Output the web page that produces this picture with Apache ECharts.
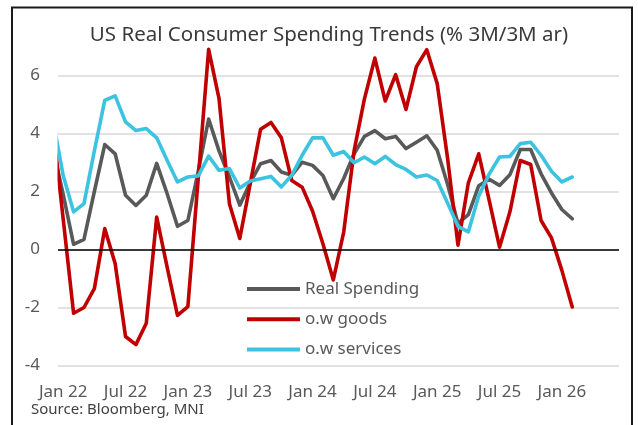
<!DOCTYPE html>
<html>
<head>
<meta charset="utf-8">
<script src="https://cdn.jsdelivr.net/npm/echarts@6/dist/echarts.min.js"></script>
<style>
html,body{margin:0;padding:0;background:#fff;}
#chart{width:638px;height:425px;}
</style>
</head>
<body>
<div id="chart"></div>
<script>
// Monthly categories (first point Dec 21 sits just left of the plot and is clipped)
const months = ['Dec 21',
  'Jan 22','Feb 22','Mar 22','Apr 22','May 22','Jun 22','Jul 22','Aug 22','Sep 22','Oct 22','Nov 22','Dec 22',
  'Jan 23','Feb 23','Mar 23','Apr 23','May 23','Jun 23','Jul 23','Aug 23','Sep 23','Oct 23','Nov 23','Dec 23',
  'Jan 24','Feb 24','Mar 24','Apr 24','May 24','Jun 24','Jul 24','Aug 24','Sep 24','Oct 24','Nov 24','Dec 24',
  'Jan 25','Feb 25','Mar 25','Apr 25','May 25','Jun 25','Jul 25','Aug 25','Sep 25','Oct 25','Nov 25','Dec 25',
  'Jan 26','Feb 26'];
const tickLabels = ['Jan 22','Jul 22','Jan 23','Jul 23','Jan 24','Jul 24','Jan 25','Jul 25','Jan 26'];
const yTicks = [-4, -2, 0, 2, 4, 6];

const realSpending = [3.5,1.9,0.18,0.35,2.0,3.62,3.3,1.87,1.52,1.87,2.97,1.93,0.8,
  1.0,2.7,4.5,3.4,2.5,1.53,2.3,2.96,3.07,2.67,2.56,3.01,
  2.9,2.55,1.75,2.45,3.3,3.9,4.1,3.82,3.9,3.48,3.7,3.92,
  3.42,2.25,0.9,1.2,2.2,2.42,2.21,2.58,3.45,3.45,2.61,1.95,
  1.38,1.06];
const goods = [4.3,1.05,-2.2,-2.0,-1.35,0.72,-0.48,-3.0,-3.28,-2.54,1.12,-0.6,-2.27,
  -1.97,2.45,6.9,5.2,1.58,0.38,2.26,4.15,4.38,3.85,2.38,2.15,
  1.33,0.2,-1.05,0.6,3.4,5.2,6.6,5.12,6.03,4.83,6.3,6.89,
  5.72,3.15,0.15,2.3,3.3,1.7,0.08,1.3,3.07,2.93,1.0,0.4,
  -0.72,-1.98];
const services = [4.5,2.55,1.3,1.58,3.4,5.14,5.3,4.4,4.1,4.17,3.85,3.08,2.33,
  2.5,2.54,3.22,2.73,2.79,2.12,2.36,2.44,2.52,2.16,2.56,3.25,
  3.85,3.85,3.25,3.38,2.99,3.19,2.96,3.21,2.93,2.76,2.5,2.57,
  2.38,1.6,0.8,0.61,1.85,2.6,3.19,3.21,3.65,3.7,3.25,2.7,
  2.33,2.5];

const seriesNames = ['Real Spending', 'o.w goods', 'o.w services'];
const seriesColors = ['#595959', '#C00000', '#3CC3DF'];

// x position: index relative to Jan 22 (Dec 21 = -1)
function toPairs(arr){ return arr.map((v,i)=>[i-1, v]); }
const tickIdx = tickLabels.map(l => months.indexOf(l) - 1);

const chart = echarts.init(document.getElementById('chart'), null, {renderer:'canvas'});
const lineStyleBase = {width:3.6, cap:'round', join:'round'};
const FONT = 'Noto Sans';

chart.setOption({
  animation:false,
  backgroundColor:'#ffffff',
  title:{
    text:'US Real Consumer Spending Trends (% 3M/3M ar)',
    left:324, top:20, textAlign:'center',
    textStyle:{fontFamily:FONT, fontSize:20.5, fontWeight:'normal', color:'#3a3a3a'}
  },
  grid:{left:58, right:19, top:46.5, bottom:59.5, containLabel:false},
  legend:{
    orient:'vertical', left:242, top:275.5,
    itemWidth:53, itemHeight:4, itemGap:13.3, icon:'rect',
    textStyle:{fontFamily:FONT, fontSize:17, color:'#595959'},
    data:seriesNames
  },
  xAxis:{
    type:'value', min:-0.5, max:53.5,
    axisLine:{show:false}, axisTick:{show:false}, splitLine:{show:false},
    axisLabel:{
      customValues:tickIdx, margin:18,
      fontFamily:FONT, fontSize:17, color:'#595959',
      formatter:function(v){ return months[Math.round(v)+1] || ''; }
    }
  },
  yAxis:{
    type:'value', min:-4, max:7, interval:2,
    axisLine:{show:false}, axisTick:{show:false},
    splitLine:{show:true, showMaxLine:false, lineStyle:{color:'#d9d9d9', width:1.5}},
    axisLabel:{
      showMaxLabel:false, margin:18,
      fontFamily:FONT, fontSize:17, color:'#595959',
      formatter:function(v){ return yTicks.indexOf(v) >= 0 ? String(v) : ''; }
    }
  },
  series:[
    {name:seriesNames[0], type:'line', data:toPairs(realSpending), symbol:'none', clip:true,
     color:seriesColors[0], lineStyle:Object.assign({color:seriesColors[0]}, lineStyleBase),
     markLine:{silent:true, symbol:'none', label:{show:false}, animation:false,
       lineStyle:{color:'#000', width:1.6, type:'solid'}, data:[{yAxis:0}]}},
    {name:seriesNames[1], type:'line', data:toPairs(goods), symbol:'none', clip:true,
     color:seriesColors[1], lineStyle:Object.assign({color:seriesColors[1]}, lineStyleBase)},
    {name:seriesNames[2], type:'line', data:toPairs(services), symbol:'none', clip:true,
     color:seriesColors[2], lineStyle:Object.assign({color:seriesColors[2]}, lineStyleBase)}
  ],
  graphic:[
    // white mask trimming the clip padding at the plot's left edge
    {type:'rect', silent:true, z:50,
     shape:{x:44, y:40, width:13.5, height:330},
     style:{fill:'#ffffff'}},
    {type:'rect', silent:true, z:100,
     shape:{x:12, y:7.5, width:620, height:440},
     style:{fill:'none', stroke:'#1a1a1a', lineWidth:2}},
    {type:'text', left:31, top:402, silent:true,
     style:{text:'Source: Bloomberg, MNI', fontFamily:FONT, fontSize:15, fill:'#404040'}}
  ]
});
</script>
</body>
</html>
